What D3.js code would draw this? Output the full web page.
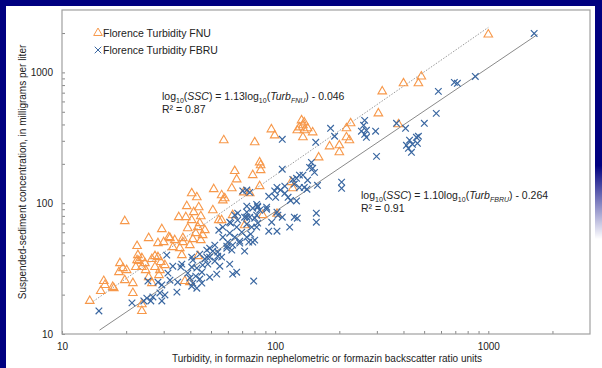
<!DOCTYPE html>
<html>
<head>
<meta charset="utf-8">
<script src="https://cdn.jsdelivr.net/npm/d3@7"></script>
<style>
  html, body { margin: 0; padding: 0; background: #000080; }
  svg { display: block; font-family: "Liberation Sans", Arial, sans-serif; }
</style>
</head>
<body>
<div id="chart"></div>
<script>
// turbidity (FNU) vs SSC, mg/L
const fnuPoints = [
  [1000,1950],[485,931],[470,825],[400,825],[318,716],[305,486],[379,401],[133,430],[137,415],[135,394],
  [130,380],[127,361],[137,361],[135,319],[150,348],[226,408],[216,374],[216,319],[223,303],[180,272],
  [200,277],[200,245],[160,224],[119,145],[121,130],[142,374],[96,367],[99.5,330],[57.4,303],[80.2,292],
  [84.6,205],[85.5,195],[85.5,179],[64.6,176],[78.5,164],[66,152],[84.6,135],[62.6,130],[71.2,121],[76,119],
  [56.1,115],[58,109],[56.8,105],[63.2,81],[87.4,81],[56.1,74.2],[71.9,67.9],[40.6,119],[51.5,128],[38.5,94.9],
  [43.8,93.2],[41.5,85.4],[51,88.4],[35.3,78.2],[38.1,78.2],[40.6,74.2],[44.8,79.5],[44.3,70.4],[54.4,74.2],[29.4,63.3],
  [38.9,64.4],[43.4,65.6],[46.8,62.2],[42.4,59],[45.7,57],[31.7,55],[33.8,52.2],[36.9,54.1],[41.1,53.1],[44.8,52.2],
  [39.8,47.8],[33.1,46.1],[35.7,45.3],[36.5,40.1],[42.9,111],[19.7,72.9],[25.5,54.1],[28.2,49.5],[30,50.4],[32.1,54.1],
  [36.9,50.4],[22.7,40.1],[22.5,36.7],[23.7,38],[24.5,34.8],[26.4,37.4],[28.2,38.7],[29.1,35.5],[30.4,33.6],[18.7,34.8],
  [19.3,31.9],[22.2,32.5],[23.7,32.5],[24.7,30.8],[27.3,32.5],[28.8,30.8],[18.5,29.7],[20.1,30.8],[25.5,27.2],[28.5,28.2],
  [21.5,24.5],[17.3,22.9],[26.4,24.5],[19.7,25.8],[22.5,47],[22.9,36.1],[27.3,39.4],[15.7,25.4],[15.9,23.7],[17.5,22.4],
  [15.2,21.3],[21.5,20.6],[13.5,17.9],[23.7,16.9],[23.7,15],[102,83],[37.7,25.4],[39.8,24.9],[43.4,39.4]
];

// turbidity (FBRU) vs SSC, mg/L
const fbruPoints = [
  [1641,1986],[869,931],[693,839],[716,825],[583,716],[570,486],[371,408],[409,374],[501,408],[470,325],
  [460,319],[427,303],[413,277],[441,282],[465,287],[422,263],[436,245],[296,355],[263,430],[260,394],
  [268,361],[254,355],[263,336],[268,319],[182,374],[190,325],[155,292],[148,205],[150,185],[145,188],
  [299,228],[205,145],[205,130],[135,164],[126,155],[123,140],[137,132],[108,308],[108,182],[121,152],
  [130,164],[142,150],[153,172],[102,132],[106,126],[93.3,113],[100.5,111],[111,119],[115,111],[118,105],
  [130,132],[141,128],[158,137],[70.5,124],[76,121],[81.9,98],[82.8,93.2],[91.2,93.2],[78.5,91.6],[84.6,88.4],
  [73.6,85.4],[71.9,78.2],[66.7,83.9],[81.9,81],[102,85.4],[103,81],[127,76.8],[156,83.9],[156,71.6],[61.2,71.6],
  [96.3,71.6],[73.6,69.1],[73.6,126],[76,78.2],[80.2,76.8],[64.6,81],[66.7,74.2],[61.9,70.4],[66,65.6],[77.6,65.6],
  [82.8,70.4],[56.8,65.6],[54.4,62.2],[56.8,55],[61.2,59],[64.6,55],[69.7,60.1],[59.9,50.4],[63.2,47.8],[68.2,49.5],
  [75.2,50.4],[80.2,52.2],[59.3,45.3],[62.6,43.8],[49.3,45.3],[52.1,47.8],[53.8,42.3],[44.3,40.8],[40.6,38.7],[49.3,38.7],
  [56.1,38.7],[31,40.1],[36.1,32.5],[40.6,32.5],[41.1,36.7],[42.9,31.9],[45.7,33.6],[47.8,38.7],[47.8,43.8],[31.4,29.2],
  [32.1,25.8],[28.2,24.9],[29.4,23.7],[34.9,24.9],[39.8,26.8],[42.4,27.7],[41.1,24.5],[45.3,24.5],[42.9,22.4],[34.6,20.9],
  [28.8,20.6],[30.4,19.9],[25,18.8],[26.7,19.2],[14.9,15],[21.3,17.3],[24.2,17.9],[26.1,17.9],[29.4,17.9],[25.3,25.4],
  [33.1,33],[36.5,34.2],[38.9,29.2],[40.6,23.2],[44.3,26.3],[45.3,29.7],[48.3,34.2],[46.8,37.4],[51,43],[53.8,39.4],
  [52.1,36.1],[55,33],[53.2,28.7],[49.3,27.2],[66,29.7],[61.2,34.2],[59.3,47],[68.2,51.3],[73.6,55],[76.8,58],
  [81.9,65.6],[78.5,50.4],[71.9,43],[79.3,25.4],[82.8,94.9],[91.2,90],[108,78.2],[117,65.6],[123,78.2],[102,61.1],
  [93.3,61.1],[99.5,124],[111,135],[126,104],[73.6,78.2],[73.6,94.9],[63.2,28.7]
];

// regression fits: log10(SSC) = slope*log10(Turb) + icpt, drawn over [from, to]
const fnuFit = { slope: 1.13, icpt: -0.046, from: 14, to: 1000 };
const fbruFit = { slope: 1.10, icpt: -0.264, from: 15, to: 1700 };

const majorTicks = [10, 100, 1000];
const tickVals = [];
[10, 100, 1000].forEach(d => { for (let k = 1; k <= 9; k++) if (d * k <= 2000) tickVals.push(d * k); });

const width = 602, height = 368;
const margin = { top: 10, right: 12, bottom: 34, left: 62 };
const orange = '#f7984a', blue = '#3a67a1';

const svg = d3.select('#chart').append('svg')
  .attr('width', width).attr('height', height);

// page frame, the right border fades out part way down
const grad = svg.append('defs').append('linearGradient')
  .attr('id', 'fade').attr('x1', 0).attr('y1', 0).attr('x2', 0).attr('y2', 1);
grad.append('stop').attr('offset', '0.45').attr('stop-color', '#000080').attr('stop-opacity', 1);
grad.append('stop').attr('offset', '0.65').attr('stop-color', '#000080').attr('stop-opacity', 0);

svg.append('rect').attr('width', width).attr('height', height).attr('fill', '#000080');
svg.append('rect').attr('x', 6).attr('y', 6).attr('width', width - 6).attr('height', height - 6).attr('fill', '#fff');
svg.append('rect').attr('x', 595).attr('y', 0).attr('width', 7).attr('height', height).attr('fill', 'url(#fade)');

const x = d3.scaleLog().domain([10, 3000]).range([margin.left, width - margin.right]);
const y = d3.scaleLog().domain([10, 3000]).range([height - margin.bottom, margin.top]);

const fmt = d => majorTicks.includes(d) ? String(d) : '';

const gx = svg.append('g')
  .attr('transform', `translate(0,${height - margin.bottom})`)
  .call(d3.axisBottom(x).tickValues(tickVals).tickSize(-3).tickPadding(9).tickFormat(fmt));
const gy = svg.append('g')
  .attr('transform', `translate(${margin.left},0)`)
  .call(d3.axisLeft(y).tickValues(tickVals).tickSize(-3).tickPadding(9).tickFormat(fmt));

[gx, gy].forEach(g => {
  g.select('.domain').remove();
  g.selectAll('.tick line').attr('stroke', '#888');
  g.selectAll('.tick text').attr('fill', '#222').style('font-size', '10px');
});

// plot box
svg.append('rect')
  .attr('x', margin.left).attr('y', margin.top)
  .attr('width', width - margin.left - margin.right)
  .attr('height', height - margin.top - margin.bottom)
  .attr('fill', 'none').attr('stroke', '#a0a0a0').attr('stroke-width', 1.2);

// trend lines
function fitLine(f) {
  return [f.from, f.to].map(t => [t, Math.pow(10, f.slope * Math.log10(t) + f.icpt)]);
}
const line = d3.line().x(d => x(d[0])).y(d => y(d[1]));
svg.append('path').attr('d', line(fitLine(fnuFit)))
  .attr('fill', 'none').attr('stroke', '#9a9a9a').attr('stroke-width', 1).attr('stroke-dasharray', '1.5,1.5');
svg.append('path').attr('d', line(fitLine(fbruFit)))
  .attr('fill', 'none').attr('stroke', '#8a8a8a').attr('stroke-width', 1);

// markers
const tri = d3.symbol().type(d3.symbolTriangle).size(32);
svg.append('g').selectAll('path')
  .data(fnuPoints).enter().append('path')
  .attr('d', tri)
  .attr('transform', d => `translate(${x(d[0])},${y(d[1])})`)
  .attr('fill', 'none').attr('stroke', orange).attr('stroke-width', 1.1);

const cross = d3.symbol().type(d3.symbolX).size(30);
svg.append('g').selectAll('path')
  .data(fbruPoints).enter().append('path')
  .attr('d', cross)
  .attr('transform', d => `translate(${x(d[0])},${y(d[1])})`)
  .attr('fill', 'none').attr('stroke', blue).attr('stroke-width', 1.2);

// legend
const legend = [
  { label: 'Florence Turbidity FNU', sym: tri, color: orange },
  { label: 'Florence Turbidity FBRU', sym: cross, color: blue }
];
legend.forEach((l, i) => {
  const ly = 33 + i * 17;
  svg.append('path').attr('d', l.sym).attr('transform', `translate(98,${ly})`)
    .attr('fill', 'none').attr('stroke', l.color).attr('stroke-width', 1);
  svg.append('text').attr('x', 103).attr('y', ly + 4).attr('fill', '#222')
    .style('font-size', '10.5px').text(l.label);
});

// equations
function equation(x0, y0, slope, sub, icpt, r2) {
  const t = svg.append('text').attr('x', x0).attr('y', y0).attr('fill', '#222').style('font-size', '10.5px');
  t.append('tspan').text('log');
  t.append('tspan').attr('dy', 2.5).style('font-size', '7px').text('10');
  t.append('tspan').attr('dy', -2.5).text('(');
  t.append('tspan').style('font-style', 'italic').text('SSC');
  t.append('tspan').text(`) = ${slope}log`);
  t.append('tspan').attr('dy', 2.5).style('font-size', '7px').text('10');
  t.append('tspan').attr('dy', -2.5).text('(');
  t.append('tspan').style('font-style', 'italic').text('Turb');
  t.append('tspan').attr('dy', 2.5).style('font-size', '7px').style('font-style', 'italic').text(sub);
  t.append('tspan').attr('dy', -2.5).text(`) - ${icpt}`);
  svg.append('text').attr('x', x0).attr('y', y0 + 13).attr('fill', '#222')
    .style('font-size', '10.5px').text(`R\u00b2 = ${r2}`);
}
equation(162, 100, '1.13', 'FNU', '0.046', '0.87');
equation(361, 199, '1.10', 'FBRU', '0.264', '0.91');

// axis titles
svg.append('text').attr('x', 327).attr('y', 362).attr('text-anchor', 'middle')
  .attr('fill', '#222').style('font-size', '10px')
  .text('Turbidity, in formazin nephelometric or formazin backscatter ratio units');
svg.append('text').attr('transform', 'translate(26,172) rotate(-90)').attr('text-anchor', 'middle')
  .attr('fill', '#222').style('font-size', '10px')
  .text('Suspended-sediment concentration, in milligrams per liter');
</script>
</body>
</html>
